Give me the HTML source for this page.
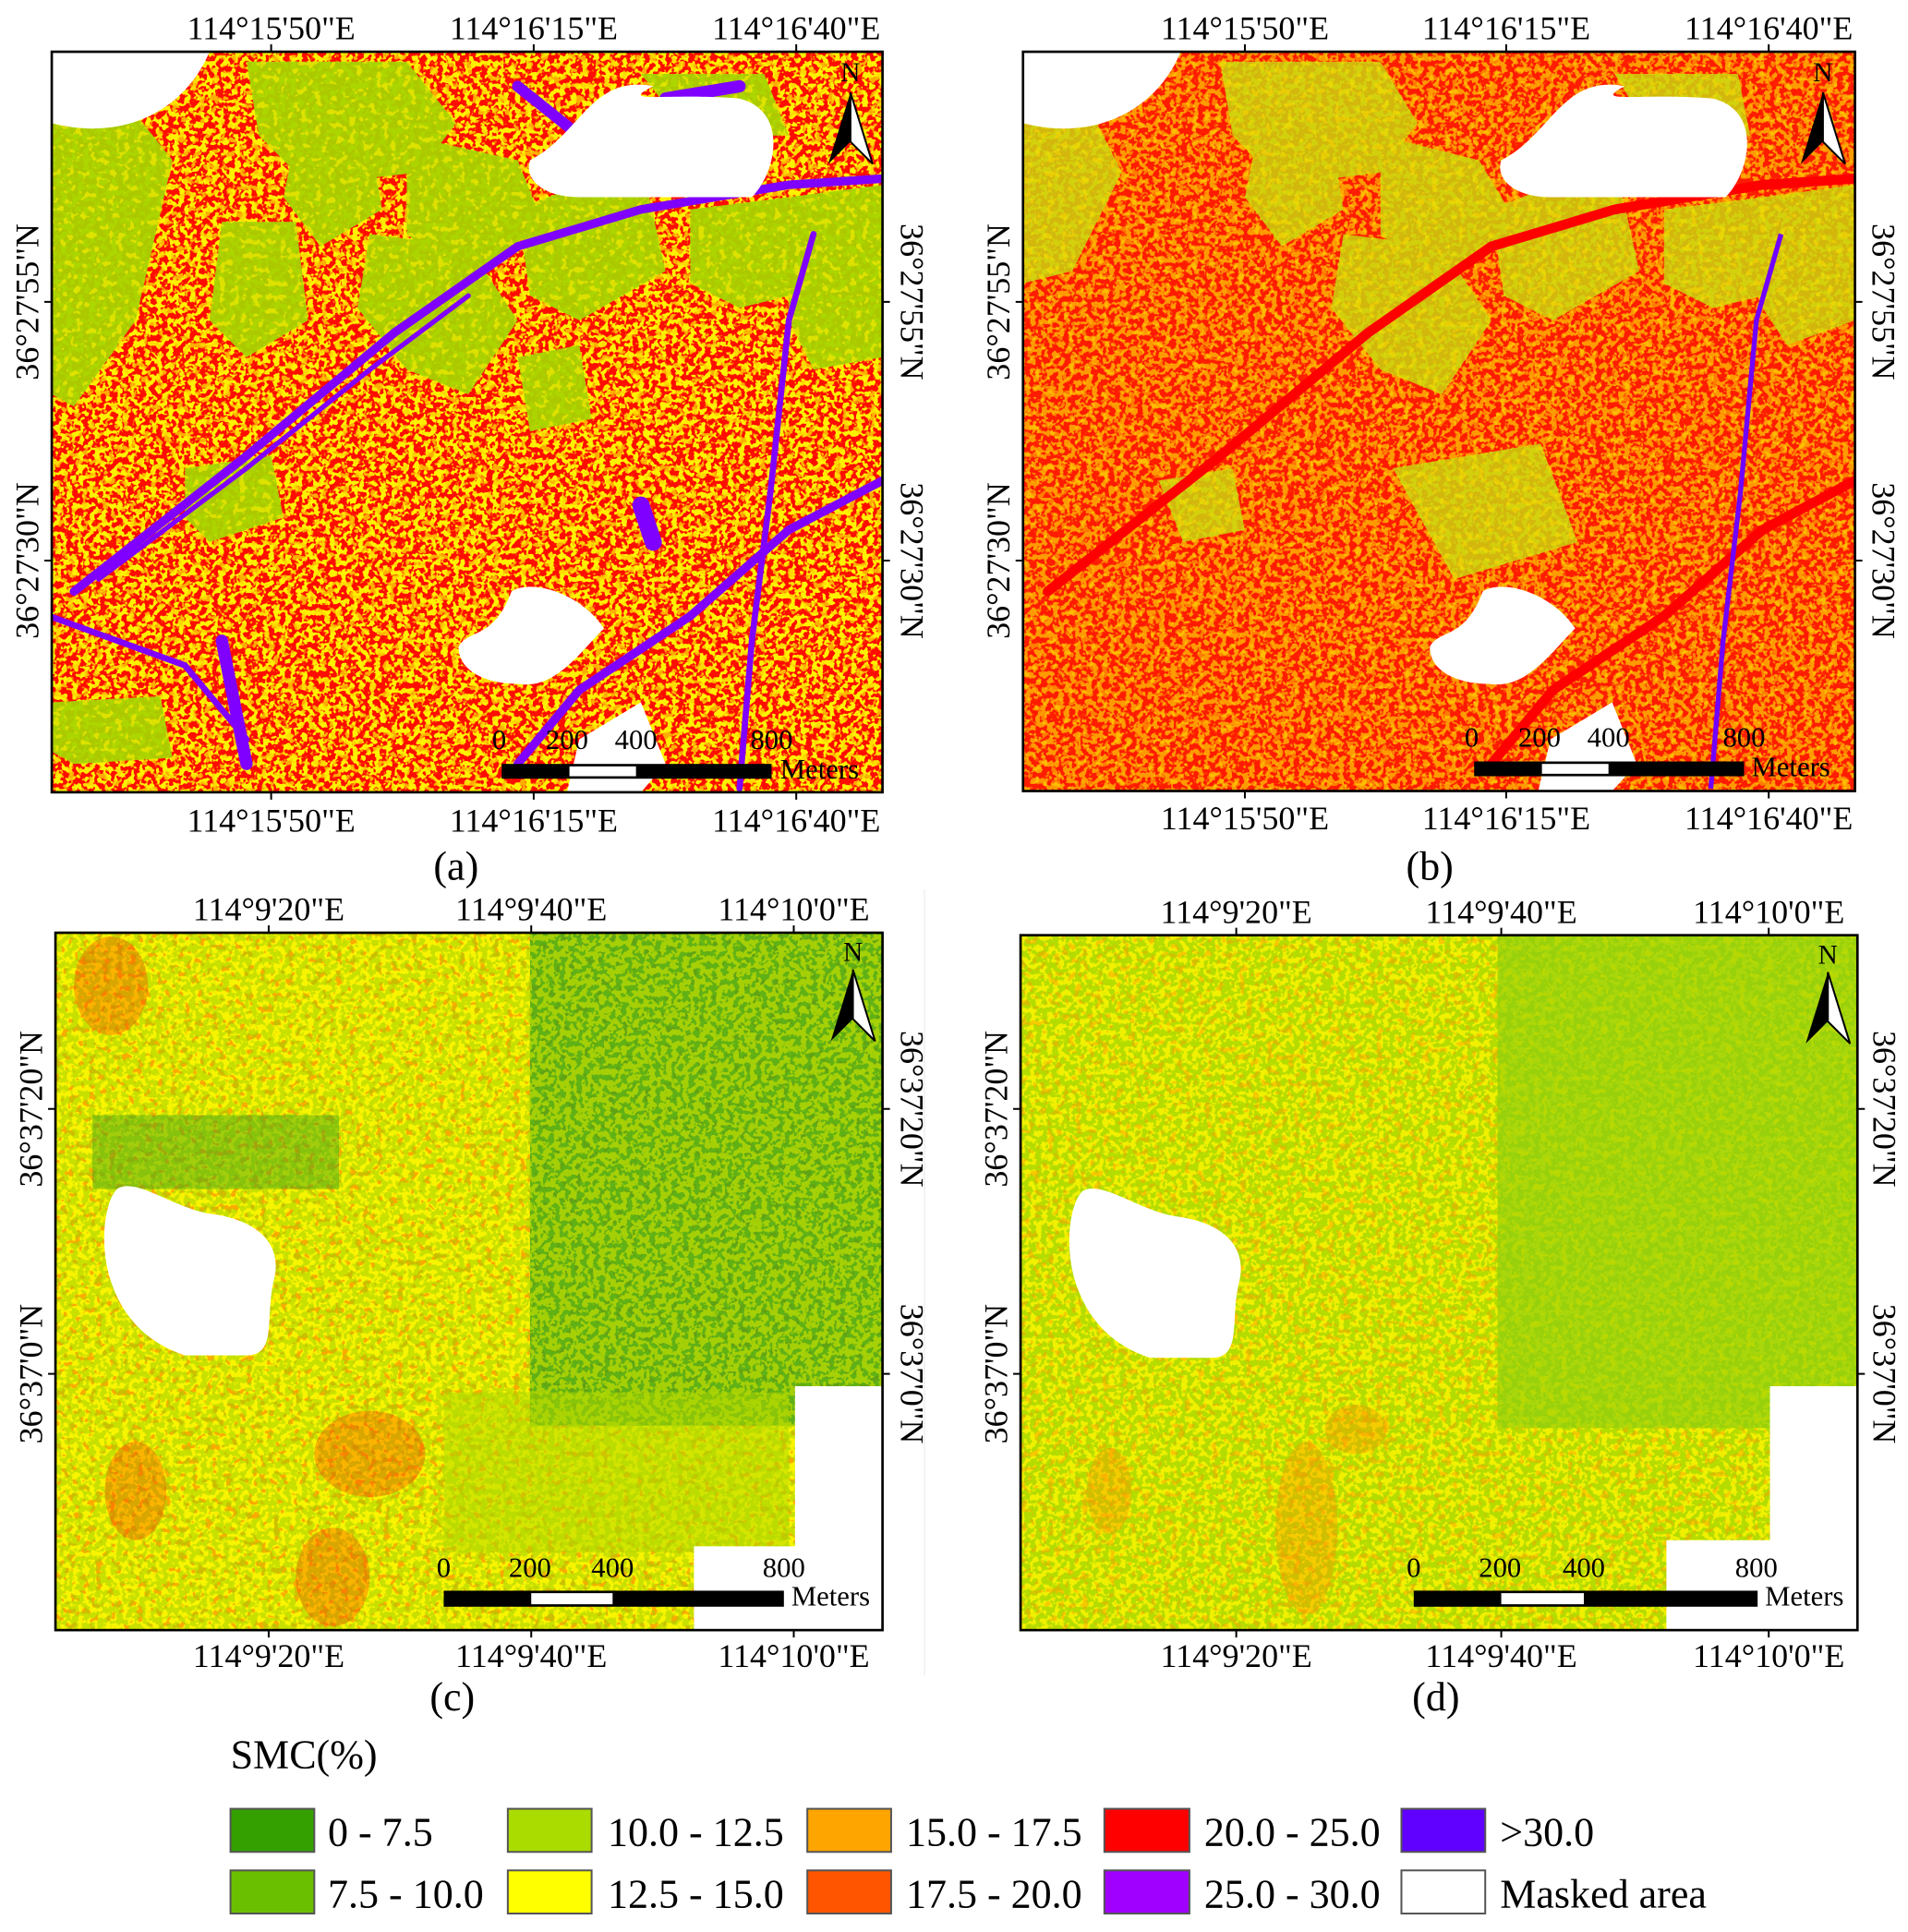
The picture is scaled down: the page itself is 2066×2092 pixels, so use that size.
<!DOCTYPE html>
<html><head><meta charset="utf-8"><style>html,body{margin:0;padding:0;background:#fff}svg{display:block}text{font-family:"Liberation Serif",serif;fill:#000}</style></head><body>
<svg width="2066" height="2092" viewBox="0 0 1548 1568" preserveAspectRatio="none" xmlns="http://www.w3.org/2000/svg">
<defs>
<filter id="f40" x="0" y="0" width="1" height="1"><feTurbulence type="fractalNoise" baseFrequency="0.22" numOctaves="2" seed="2" result="n"/><feColorMatrix in="n" type="matrix" values="0 0 0 0 0 0 0 0 0 0 0 0 0 0 0 16 0 0 0 -7.2" result="m"/><feComposite in="SourceGraphic" in2="m" operator="in"/></filter>
<filter id="f55" x="0" y="0" width="1" height="1"><feTurbulence type="fractalNoise" baseFrequency="0.2" numOctaves="2" seed="7" result="n"/><feColorMatrix in="n" type="matrix" values="0 0 0 0 0 0 0 0 0 0 0 0 0 0 0 16 0 0 0 -8.5" result="m"/><feComposite in="SourceGraphic" in2="m" operator="in"/></filter>
<filter id="f25" x="0" y="0" width="1" height="1"><feTurbulence type="fractalNoise" baseFrequency="0.18" numOctaves="2" seed="11" result="n"/><feColorMatrix in="n" type="matrix" values="0 0 0 0 0 0 0 0 0 0 0 0 0 0 0 16 0 0 0 -9.3" result="m"/><feComposite in="SourceGraphic" in2="m" operator="in"/></filter>
<clipPath id="ca"><rect x="42" y="42" width="674" height="601"/></clipPath>
<clipPath id="cb"><rect x="830" y="42" width="675" height="600"/></clipPath>
<clipPath id="cc"><rect x="45" y="757" width="671" height="566"/></clipPath>
<clipPath id="cd"><rect x="828" y="759" width="679" height="564"/></clipPath>
<g id="north"><path d="M0,0 L-18,58 L0,40 Z" fill="#000"/><path d="M0,0 L18,58 L0,40 Z" fill="#fff" stroke="#000" stroke-width="1.5"/></g>
</defs>

<!-- Panel a -->
<g clip-path="url(#ca)">
<rect x="42" y="42" width="674" height="601" fill="#fff200"/>
<rect x="42" y="42" width="674" height="601" fill="#ff0a00" filter="url(#f40)"/>
<rect x="42" y="42" width="674" height="601" fill="#ff8c00" filter="url(#f25)" opacity="0.5"/>
<g fill="#a8d400" opacity="0.95">
<path d="M42,100 L100,80 L140,130 L110,260 L60,330 L42,320Z"/>
<path d="M200,50 L330,50 L370,100 L340,140 L250,150 L210,110Z"/>
<path d="M330,110 L420,130 L440,180 L380,230 L330,190Z"/>
<path d="M300,190 L380,200 L420,260 L380,320 L330,300 L290,250Z"/>
<path d="M420,170 L520,130 L540,220 L470,260 L430,240Z"/>
<path d="M560,170 L640,160 L640,240 L600,250 L560,230Z"/>
<path d="M640,160 L716,150 L716,290 L660,300 L640,260Z"/>
<path d="M150,380 L220,370 L230,420 L170,440 L150,420Z"/>
<path d="M240,110 L300,110 L310,170 L260,200 L230,160Z"/>
<path d="M42,570 L130,565 L140,615 L60,620 L42,610Z"/>
<path d="M520,60 L620,60 L640,110 L560,110Z"/>
<path d="M180,180 L240,180 L250,260 L200,290 L170,260Z"/>
<path d="M420,290 L470,280 L480,340 L430,350Z"/>
</g>
<rect x="42" y="42" width="674" height="601" fill="#ffee00" filter="url(#f25)" opacity="0.6"/>
<g stroke="#8000ff" fill="none" stroke-linecap="round">
<path d="M60,480 L200,370 L320,270 L420,200 L520,170 L640,150 L716,145" stroke-width="7"/>
<path d="M80,470 L200,380 L300,300 L380,240" stroke-width="4"/>
<path d="M660,190 L640,260 L625,400 L610,520 L600,640" stroke-width="5"/>
<path d="M420,620 L470,560 L560,500 L640,430 L716,390" stroke-width="7"/>
<path d="M40,500 L150,540 L200,600" stroke-width="5"/>
<path d="M420,70 L470,110 L500,130" stroke-width="9"/>
<path d="M540,80 L600,70" stroke-width="10"/>
<path d="M520,410 L530,440" stroke-width="14"/>
<path d="M180,520 L200,620" stroke-width="10"/>
</g>
<g fill="#fff">
<path d="M42,42 L170,42 C150,90 100,115 42,100Z"/>
<path d="M430,130 C470,110 480,60 530,70 C500,85 540,75 600,80 C640,90 630,140 610,160 L470,160 C440,160 425,145 430,130Z"/>
<path d="M372,525 C380,510 400,520 415,480 C430,470 470,480 490,510 C470,530 450,560 420,555 C395,555 372,545 372,525Z"/>
<path d="M470,600 L520,570 L540,620 L520,643 L460,643Z"/>
</g>
</g>
<rect x="42" y="42" width="674" height="601" fill="none" stroke="#000" stroke-width="2"/>

<!-- Panel b -->
<g clip-path="url(#cb)">
<rect x="830" y="42" width="675" height="600" fill="#ff9a00"/>
<rect x="830" y="42" width="675" height="600" fill="#ff1a00" filter="url(#f40)"/>
<g fill="#c8de10" opacity="0.8">
<path d="M830,100 L880,80 L910,140 L870,220 L830,230Z"/>
<path d="M990,50 L1120,50 L1150,100 L1120,140 L1040,150 L1000,110Z"/>
<path d="M1120,110 L1200,130 L1230,180 L1170,230 L1120,190Z"/>
<path d="M1090,190 L1170,200 L1210,260 L1170,320 L1120,300 L1080,250Z"/>
<path d="M1210,170 L1310,130 L1330,220 L1260,260 L1220,240Z"/>
<path d="M1350,170 L1430,160 L1430,240 L1390,250 L1350,230Z"/>
<path d="M1430,160 L1505,150 L1505,260 L1450,280 L1430,250Z"/>
<path d="M940,390 L1000,380 L1010,430 L960,440Z"/>
<path d="M1020,110 L1080,110 L1090,170 L1040,200 L1010,160Z"/>
<path d="M1310,60 L1410,60 L1420,110 L1340,110Z"/>
<path d="M1130,380 L1250,360 L1280,440 L1180,470Z"/>
</g>
<rect x="830" y="42" width="675" height="600" fill="#ffe000" filter="url(#f25)" opacity="0.5"/>
<g stroke="#ff0000" fill="none" stroke-linecap="round">
<path d="M850,480 L990,370 L1110,270 L1210,200 L1310,170 L1430,150 L1505,145" stroke-width="8"/>
<path d="M1210,620 L1260,560 L1350,500 L1430,430 L1505,390" stroke-width="8"/>
</g>
<g stroke="#7000ff" fill="none"><path d="M1445,190 L1425,260 L1412,400 L1398,520 L1388,640" stroke-width="4"/></g>
<g fill="#fff">
<path d="M830,42 L958,42 C938,90 888,115 830,100Z"/>
<path d="M1218,130 C1258,110 1268,60 1318,70 C1290,85 1330,75 1390,80 C1430,90 1420,140 1400,160 L1258,160 C1228,160 1213,145 1218,130Z"/>
<path d="M1160,525 C1168,510 1188,520 1203,480 C1218,470 1258,480 1278,510 C1258,530 1238,560 1208,555 C1183,555 1160,545 1160,525Z"/>
<path d="M1258,600 L1308,570 L1328,620 L1308,642 L1248,642Z"/>
</g>
</g>
<rect x="830" y="42" width="675" height="600" fill="none" stroke="#000" stroke-width="2"/>

<!-- Panel c -->
<g clip-path="url(#cc)">
<rect x="45" y="757" width="671" height="566" fill="#f8f400"/>
<rect x="45" y="757" width="671" height="566" fill="#ff7a00" filter="url(#f25)" opacity="0.6"/>
<rect x="45" y="757" width="671" height="566" fill="#a0d000" filter="url(#f40)" opacity="0.55"/>
<rect x="430" y="757" width="286" height="400" fill="#3aa01a" opacity="0.8"/>
<rect x="430" y="757" width="286" height="400" fill="#c8e000" filter="url(#f40)" opacity="0.7"/>
<rect x="360" y="1130" width="280" height="130" fill="#b0d800" opacity="0.5"/>
<rect x="75" y="905" width="200" height="60" fill="#3aa01a" opacity="0.45"/>
<g fill="#ff2000" opacity="0.3"><ellipse cx="300" cy="1180" rx="45" ry="35"/><ellipse cx="110" cy="1210" rx="25" ry="40"/><ellipse cx="270" cy="1280" rx="30" ry="40"/><ellipse cx="90" cy="800" rx="30" ry="40"/></g>
<g fill="#fff">
<path d="M95,965 C110,955 140,980 170,985 C210,990 230,1010 222,1040 C215,1070 225,1100 200,1100 L150,1100 C120,1090 100,1070 90,1040 C80,1010 85,975 95,965Z"/>
<path d="M645,1125 L716,1125 L716,1323 L563,1323 L563,1255 L645,1255Z"/>
</g>
</g>
<rect x="45" y="757" width="671" height="566" fill="none" stroke="#000" stroke-width="2"/>

<!-- Panel d -->
<g clip-path="url(#cd)">
<rect x="828" y="759" width="679" height="564" fill="#f0f000"/>
<rect x="828" y="759" width="679" height="564" fill="#b4dc00" filter="url(#f40)"/>
<rect x="828" y="759" width="679" height="564" fill="#ff9a00" filter="url(#f25)" opacity="0.45"/>
<rect x="1215" y="759" width="292" height="400" fill="#8ccc10" opacity="0.7"/>
<rect x="1215" y="759" width="292" height="400" fill="#c0e000" filter="url(#f25)" opacity="0.7"/>
<g fill="#ff8a00" opacity="0.35"><ellipse cx="1060" cy="1240" rx="25" ry="70"/><ellipse cx="1100" cy="1160" rx="25" ry="20"/><ellipse cx="900" cy="1210" rx="18" ry="35"/></g>
<g fill="#fff">
<path d="M878,967 C893,957 923,982 953,987 C993,992 1013,1012 1005,1042 C998,1072 1008,1102 983,1102 L933,1102 C903,1092 883,1072 873,1042 C863,1012 868,977 878,967Z"/>
<path d="M1436,1125 L1507,1125 L1507,1323 L1352,1323 L1352,1250 L1436,1250Z"/>
</g>
</g>
<rect x="828" y="759" width="679" height="564" fill="none" stroke="#000" stroke-width="2"/>

<!-- north arrows -->
<text x="690" y="66" font-size="22" font-family="Liberation Sans" text-anchor="middle">N</text><use href="#north" x="690" y="75"/>
<text x="1479" y="66" font-size="22" font-family="Liberation Sans" text-anchor="middle">N</text><use href="#north" x="1479" y="75"/>
<text x="692" y="780" font-size="22" font-family="Liberation Sans" text-anchor="middle">N</text><use href="#north" x="692" y="787"/>
<text x="1483" y="782" font-size="22" font-family="Liberation Sans" text-anchor="middle">N</text><use href="#north" x="1483" y="789"/>

<!-- scale bars -->
<g font-family="Liberation Sans" font-size="23">
<text x="405" y="608" text-anchor="middle">0</text><text x="460" y="608" text-anchor="middle">200</text><text x="516" y="608" text-anchor="middle">400</text><text x="626" y="608" text-anchor="middle">800</text>
<rect x="407" y="620" width="219" height="12" fill="#000"/><rect x="462" y="622" width="54" height="8" fill="#fff"/><text x="633" y="632">Meters</text>
<text x="1194" y="606" text-anchor="middle">0</text><text x="1249" y="606" text-anchor="middle">200</text><text x="1305" y="606" text-anchor="middle">400</text><text x="1415" y="606" text-anchor="middle">800</text>
<rect x="1196" y="618" width="219" height="12" fill="#000"/><rect x="1251" y="620" width="54" height="8" fill="#fff"/><text x="1421" y="630">Meters</text>
<text x="360" y="1280" text-anchor="middle">0</text><text x="430" y="1280" text-anchor="middle">200</text><text x="497" y="1280" text-anchor="middle">400</text><text x="636" y="1280" text-anchor="middle">800</text>
<rect x="360" y="1291" width="276" height="13" fill="#000"/><rect x="431" y="1293" width="66" height="9" fill="#fff"/><text x="642" y="1303">Meters</text>
<text x="1147" y="1280" text-anchor="middle">0</text><text x="1217" y="1280" text-anchor="middle">200</text><text x="1285" y="1280" text-anchor="middle">400</text><text x="1425" y="1280" text-anchor="middle">800</text>
<rect x="1147" y="1291" width="279" height="13" fill="#000"/><rect x="1218" y="1293" width="67" height="9" fill="#fff"/><text x="1432" y="1303">Meters</text>
</g>

<!-- ticks -->
<g stroke="#000" stroke-width="1.5">
<path d="M220,36V42M433,36V42M646,36V42M220,643V649M433,643V649M646,643V649M36,245H42M36,455H42M716,245H722M716,455H722"/>
<path d="M1010,36V42M1222,36V42M1435,36V42M1010,642V648M1222,642V648M1435,642V648M824,245H830M824,455H830M1505,245H1511M1505,455H1511"/>
<path d="M218,751V757M431,751V757M644,751V757M218,1323V1329M431,1323V1329M644,1323V1329M39,900H45M39,1115H45M716,900H722M716,1115H722"/>
<path d="M1003,753V759M1218,753V759M1435,753V759M1003,1323V1329M1218,1323V1329M1435,1323V1329M822,900H828M822,1115H828M1507,900H1513M1507,1115H1513"/>
</g>

<!-- tick labels -->
<g font-size="27" text-anchor="middle">
<text x="220" y="32">114°15'50"E</text><text x="433" y="32">114°16'15"E</text><text x="646" y="32">114°16'40"E</text>
<text x="220" y="675">114°15'50"E</text><text x="433" y="675">114°16'15"E</text><text x="646" y="675">114°16'40"E</text>
<text x="1010" y="32">114°15'50"E</text><text x="1222" y="32">114°16'15"E</text><text x="1435" y="32">114°16'40"E</text>
<text x="1010" y="673">114°15'50"E</text><text x="1222" y="673">114°16'15"E</text><text x="1435" y="673">114°16'40"E</text>
<text x="218" y="747">114°9'20"E</text><text x="431" y="747">114°9'40"E</text><text x="644" y="747">114°10'0"E</text>
<text x="218" y="1353">114°9'20"E</text><text x="431" y="1353">114°9'40"E</text><text x="644" y="1353">114°10'0"E</text>
<text x="1003" y="749">114°9'20"E</text><text x="1218" y="749">114°9'40"E</text><text x="1435" y="749">114°10'0"E</text>
<text x="1003" y="1353">114°9'20"E</text><text x="1218" y="1353">114°9'40"E</text><text x="1435" y="1353">114°10'0"E</text>
<text transform="translate(31,245) rotate(-90)">36°27'55"N</text><text transform="translate(31,455) rotate(-90)">36°27'30"N</text>
<text transform="translate(731,245) rotate(90)">36°27'55"N</text><text transform="translate(731,455) rotate(90)">36°27'30"N</text>
<text transform="translate(819,245) rotate(-90)">36°27'55"N</text><text transform="translate(819,455) rotate(-90)">36°27'30"N</text>
<text transform="translate(1519,245) rotate(90)">36°27'55"N</text><text transform="translate(1519,455) rotate(90)">36°27'30"N</text>
<text transform="translate(34,900) rotate(-90)">36°37'20"N</text><text transform="translate(34,1115) rotate(-90)">36°37'0"N</text>
<text transform="translate(731,900) rotate(90)">36°37'20"N</text><text transform="translate(731,1115) rotate(90)">36°37'0"N</text>
<text transform="translate(817,900) rotate(-90)">36°37'20"N</text><text transform="translate(817,1115) rotate(-90)">36°37'0"N</text>
<text transform="translate(1520,900) rotate(90)">36°37'20"N</text><text transform="translate(1520,1115) rotate(90)">36°37'0"N</text>
</g>
<g font-size="33" text-anchor="middle">
<text x="370" y="714">(a)</text><text x="1160" y="714">(b)</text><text x="367" y="1388">(c)</text><text x="1165" y="1388">(d)</text>
</g>
<line x1="750" y1="722" x2="750" y2="1360" stroke="#eee" stroke-width="1"/>

<!-- legend -->
<g font-size="33">
<text x="187" y="1435">SMC(%)</text>
<g stroke="#555" stroke-width="1.5">
<rect x="187" y="1468" width="68" height="35" fill="#33a000"/><rect x="187" y="1518" width="68" height="35" fill="#6ac000"/>
<rect x="412" y="1468" width="68" height="35" fill="#aadc00"/><rect x="412" y="1518" width="68" height="35" fill="#ffff00"/>
<rect x="655" y="1468" width="68" height="35" fill="#ffa500"/><rect x="655" y="1518" width="68" height="35" fill="#ff5500"/>
<rect x="896" y="1468" width="69" height="35" fill="#ff0000"/><rect x="896" y="1518" width="69" height="35" fill="#a000ff"/>
<rect x="1137" y="1468" width="68" height="35" fill="#6000ff"/><rect x="1137" y="1518" width="68" height="35" fill="#fff"/>
</g>
<text x="266" y="1498">0 - 7.5</text><text x="266" y="1548">7.5 - 10.0</text>
<text x="493" y="1498">10.0 - 12.5</text><text x="493" y="1548">12.5 - 15.0</text>
<text x="735" y="1498">15.0 - 17.5</text><text x="735" y="1548">17.5 - 20.0</text>
<text x="977" y="1498">20.0 - 25.0</text><text x="977" y="1548">25.0 - 30.0</text>
<text x="1217" y="1498">&gt;30.0</text><text x="1217" y="1548">Masked area</text>
</g>
</svg>
</body></html>
